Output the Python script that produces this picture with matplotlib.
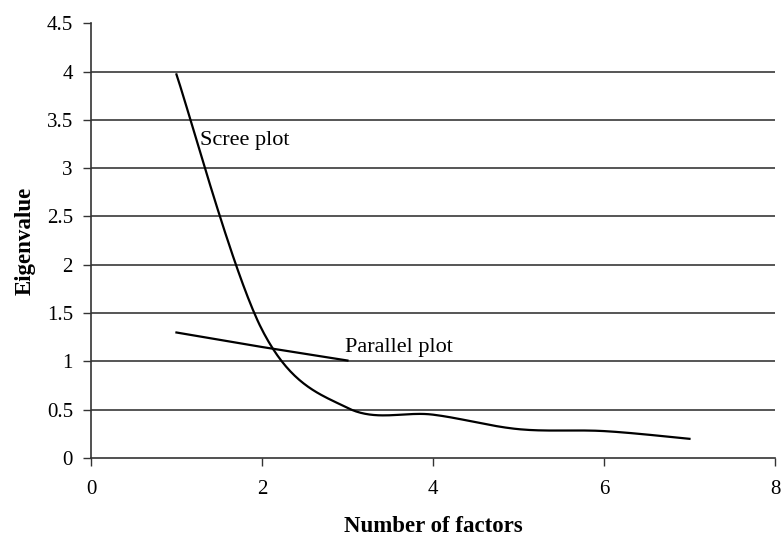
import numpy as np
import matplotlib
matplotlib.use('Agg')
import matplotlib.pyplot as plt

# values
factors = [1, 2, 3, 4, 5, 6, 7]
scree = [3.97, 1.33, 0.52, 0.45, 0.30, 0.28, 0.20]
par_factors = [1, 2, 3]
parallel = [1.30, 1.15, 1.01]


def smooth(xs, ys, n=40):
    # spreadsheet-style smoothed line: cubic Bezier through every point
    xs = np.asarray(xs, float)
    ys = np.asarray(ys, float)
    pts = np.column_stack([xs, ys])
    out = []
    t = np.linspace(0, 1, n)[:, None]
    for i in range(len(pts) - 1):
        p0 = pts[max(i - 1, 0)]
        p1 = pts[i]
        p2 = pts[i + 1]
        p3 = pts[min(i + 2, len(pts) - 1)]
        c1 = p1 + (p2 - p0) / 6
        c2 = p2 - (p3 - p1) / 6
        seg = ((1 - t) ** 3) * p1 + 3 * ((1 - t) ** 2) * t * c1 \
            + 3 * (1 - t) * t ** 2 * c2 + t ** 3 * p2
        out.append(seg if i == 0 else seg[1:])
    seg = np.vstack(out)
    return seg[:, 0], seg[:, 1]


plt.rcParams['font.family'] = ['Liberation Serif', 'DejaVu Serif']

fig = plt.figure(figsize=(7.84, 5.39), dpi=100)
ax = fig.add_axes([0.116, 0.150, 0.8725, 0.807])

for yv in np.arange(0.5, 4.01, 0.5):
    ax.axhline(yv, color='#555555', lw=1.4, zorder=1)

sx, sy = smooth(factors, scree)
ax.plot(sx, sy, color='black', lw=1.6, zorder=3)
ax.plot(par_factors, parallel, color='black', lw=1.6, zorder=3)

ax.text(1.27, 3.29, 'Scree plot', fontsize=16, va='center', ha='left')
ax.text(2.97, 1.14, 'Parallel plot', fontsize=16, va='center', ha='left')

ax.set_xlim(0, 8)
ax.set_ylim(0, 4.5)
ax.set_xticks([0, 2, 4, 6, 8])
ax.set_yticks(np.arange(0, 4.51, 0.5))
ax.set_yticklabels(['0', '0.5', '1', '1.5', '2', '2.5', '3', '3.5', '4', '4.5'])
ax.tick_params(labelsize=15, length=6, width=1, color='#333333')
ax.tick_params(axis='y', pad=7)
ax.tick_params(axis='x', pad=10)

for s in ['top', 'right']:
    ax.spines[s].set_visible(False)
for s in ['left', 'bottom']:
    ax.spines[s].set_color('#333333')
    ax.spines[s].set_linewidth(1.2)

ax.set_ylabel('Eigenvalue', fontsize=16.5, fontweight='bold', labelpad=8)
ax.set_xlabel('Number of factors', fontsize=16.5, fontweight='bold', labelpad=12)

fig.savefig('out.png', dpi=100)
